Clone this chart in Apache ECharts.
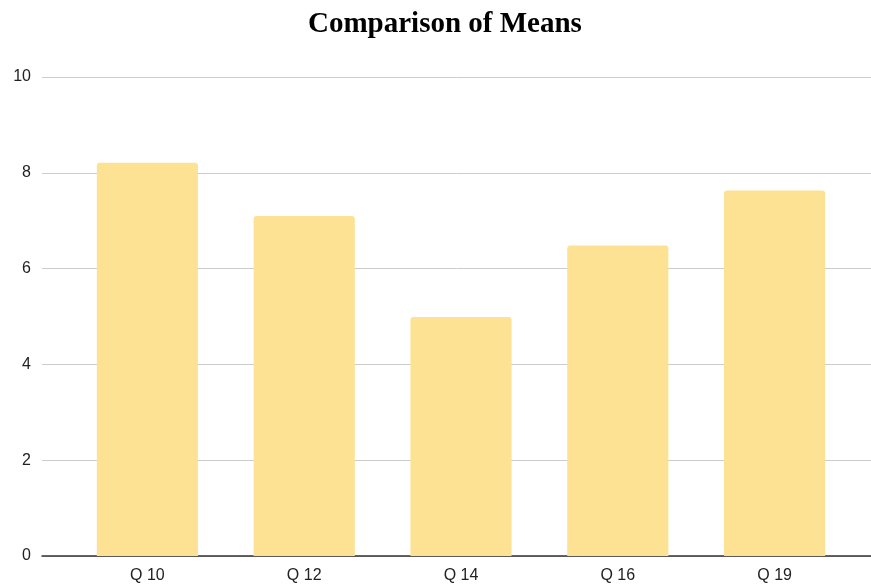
<!DOCTYPE html>
<html><head><meta charset="utf-8">
<script src="https://cdn.jsdelivr.net/npm/echarts@6/dist/echarts.min.js"></script>
<style>html,body{margin:0;padding:0;background:#fff}#c{width:871px;height:588px}</style>
</head><body><div id="c"></div>
<script>
const categories = ['Q 10', 'Q 12', 'Q 14', 'Q 16', 'Q 19'];
const means = [8.21, 7.10, 4.99, 6.48, 7.63];
const yTicks = [0, 2, 4, 6, 8, 10];

const chart = echarts.init(document.getElementById('c'));
chart.setOption({
  animation: false,
  title: {
    text: 'Comparison of Means', left: 303, top: 5,
    textStyle: { fontFamily: 'Liberation Serif', fontWeight: 'bold', fontSize: 29, color: '#000' }
  },
  grid: [
    { left: 42, right: 0, top: 77, bottom: 32 },
    { left: 69, right: 18, top: 77, bottom: 32 }
  ],
  xAxis: [
    { gridIndex: 0, type: 'category', data: [''], axisLine: { lineStyle: { color: '#333', width: 1.5 } },
      axisTick: { show: false }, axisLabel: { show: false } },
    { gridIndex: 1, type: 'category', data: categories, axisLine: { show: false }, axisTick: { show: false },
      axisLabel: { color: '#222', fontFamily: 'Liberation Sans', fontSize: 16, margin: 12 } }
  ],
  yAxis: [
    { gridIndex: 0, type: 'value', min: yTicks[0], max: yTicks[yTicks.length - 1], interval: 2,
      axisLine: { show: false }, axisTick: { show: false },
      axisLabel: { color: '#222', fontFamily: 'Liberation Sans', fontSize: 16, margin: 11 },
      splitLine: { lineStyle: { color: '#cccccc', width: 1 } } },
    { gridIndex: 1, type: 'value', min: yTicks[0], max: yTicks[yTicks.length - 1], interval: 2,
      show: false, splitLine: { show: false } }
  ],
  series: [{
    type: 'bar', xAxisIndex: 1, yAxisIndex: 1, data: means,
    barCategoryGap: '35.5%',
    itemStyle: { color: '#fde293', borderRadius: [3, 3, 0, 0] }
  }]
});
</script></body></html>
